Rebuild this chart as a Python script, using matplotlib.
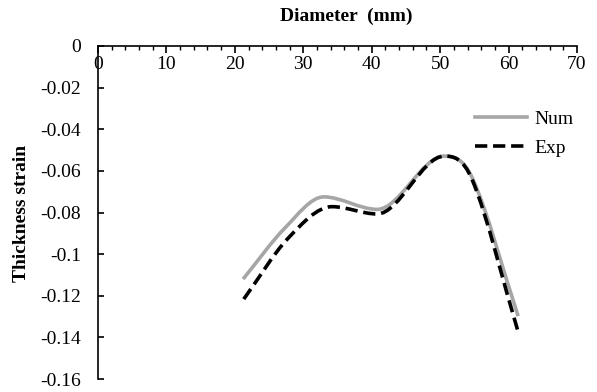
import matplotlib
matplotlib.use("Agg")
import matplotlib.pyplot as plt
from matplotlib.path import Path
from matplotlib.patches import PathPatch
from matplotlib.lines import Line2D
from matplotlib.ticker import MultipleLocator

plt.rcParams['font.family'] = ['Liberation Serif', 'DejaVu Serif']

diam_num = [21.2, 27.3, 33.0, 40.8, 50.6, 54.7, 61.4]
strain_num = [-0.112, -0.0875, -0.0725, -0.0785, -0.0529, -0.0634, -0.1298]
diam_exp = [21.3, 27.8, 34.2, 40.8, 50.6, 54.7, 61.4]
strain_exp = [-0.1216, -0.0923, -0.0772, -0.0807, -0.0529, -0.0644, -0.1374]

x_ticks = [0, 10, 20, 30, 40, 50, 60, 70]
y_ticks = [0, -0.02, -0.04, -0.06, -0.08, -0.1, -0.12, -0.14, -0.16]
y_labels = ['0', '-0.02', '-0.04', '-0.06', '-0.08', '-0.1', '-0.12', '-0.14', '-0.16']


def smooth_path(xs, ys):
    n = len(xs)
    slopes = []
    for i in range(n):
        if i == 0:
            m = (ys[1] - ys[0]) / (xs[1] - xs[0])
        elif i == n - 1:
            m = (ys[-1] - ys[-2]) / (xs[-1] - xs[-2])
        else:
            d0 = ys[i] - ys[i - 1]
            d1 = ys[i + 1] - ys[i]
            if d0 * d1 <= 0:
                m = 0.0
            else:
                m = (ys[i + 1] - ys[i - 1]) / (xs[i + 1] - xs[i - 1])
        slopes.append(m)
    verts = [(xs[0], ys[0])]
    codes = [Path.MOVETO]
    for i in range(n - 1):
        h = xs[i + 1] - xs[i]
        c1 = (xs[i] + h / 3, ys[i] + slopes[i] * h / 3)
        c2 = (xs[i + 1] - h / 3, ys[i + 1] - slopes[i + 1] * h / 3)
        verts += [c1, c2, (xs[i + 1], ys[i + 1])]
        codes += [Path.CURVE4] * 3
    return Path(verts, codes)


fig = plt.figure(figsize=(5.97, 3.92), dpi=100)
ax = fig.add_axes([98 / 597, 1 - 379 / 392, (577 - 98) / 597, (379 - 46) / 392])
ax.set_xlim(0, 70)
ax.set_ylim(-0.16, 0)

dash = (0, (3.4, 1.6))
num_patch = PathPatch(smooth_path(diam_num, strain_num), facecolor='none',
                      edgecolor='#a6a6a6', lw=2.6, capstyle='butt')
exp_patch = PathPatch(smooth_path(diam_exp, strain_exp), facecolor='none',
                      edgecolor='black', lw=2.6, linestyle=dash, capstyle='butt')
ax.add_patch(num_patch)
ax.add_patch(exp_patch)

for s in ['right', 'top']:
    ax.spines[s].set_visible(False)
ax.spines['bottom'].set_position(('data', 0))
ax.spines['bottom'].set_linewidth(1.2)
ax.spines['left'].set_linewidth(1.2)

ax.set_xticks(x_ticks)
ax.xaxis.set_minor_locator(MultipleLocator(2))
ax.set_yticks(y_ticks)
ax.set_yticklabels(y_labels)
ax.tick_params(axis='x', which='major', direction='out', length=5, width=1.2, labelsize=14, pad=2)
ax.tick_params(axis='x', which='minor', direction='out', length=3, width=1.0)
ax.tick_params(axis='y', which='major', direction='in', length=4.5, width=1.2, labelsize=14, pad=12)

fig.text(346 / 597, 1 - 16 / 392, 'Diameter  (mm)', ha='center', va='center',
         fontsize=14, fontweight='bold')
fig.text(22 / 597, 1 - 213 / 392, 'Thickness strain', ha='center', va='center',
         rotation=90, fontsize=14, fontweight='bold')

handles = [Line2D([], [], color='#a6a6a6', lw=2.6),
           Line2D([], [], color='black', lw=2.6, linestyle=dash)]
ax.legend(handles, ['Num', 'Exp'], loc='upper left', bbox_to_anchor=(0.787, 0.806),
          frameon=False, fontsize=14, handlelength=2.7, handletextpad=0.35,
          labelspacing=0.55, borderaxespad=0, borderpad=0)

fig.savefig('out.png', dpi=100)
